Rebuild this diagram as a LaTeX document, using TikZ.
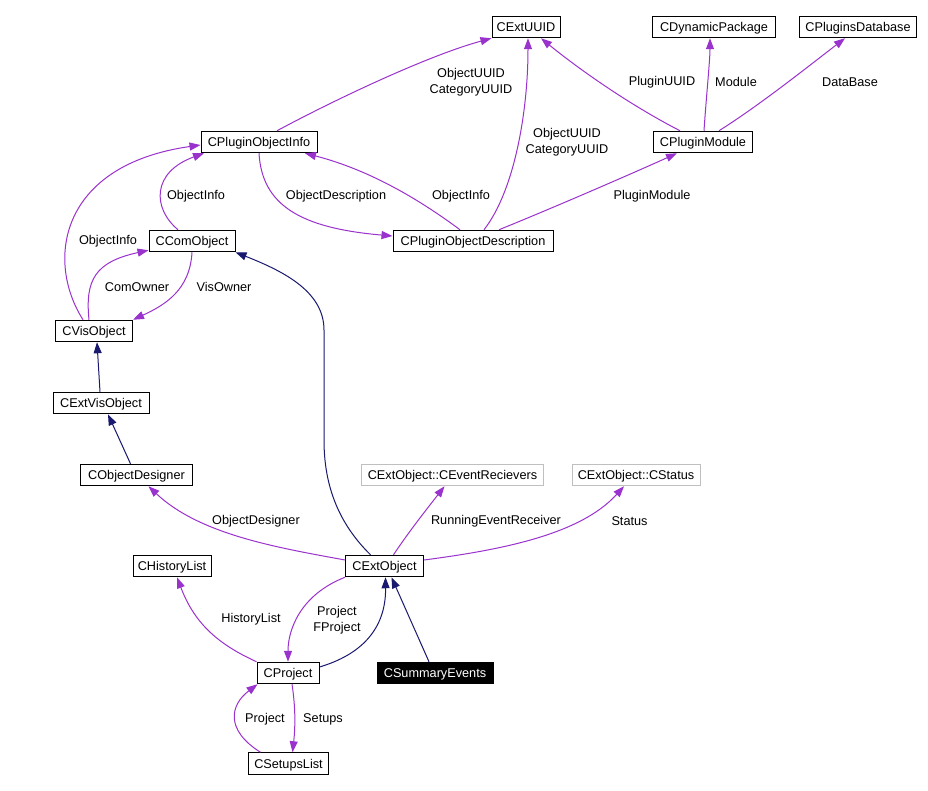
\documentclass[tikz,border=0pt]{standalone}
\usepackage{fontspec}
\setmainfont{Liberation Sans}
\usetikzlibrary{arrows.meta}
\definecolor{assocc}{HTML}{9A32CD}
\definecolor{inhc}{HTML}{191970}
\definecolor{greyb}{HTML}{BFBFBF}
\tikzset{
  cls/.style={draw=black, line width=1pt, fill=white, minimum height=21.5pt, inner xsep=1pt, inner ysep=0pt,
    font=\fontsize{12.7}{15}\selectfont, text height=10.5pt, text depth=1.2pt},
  extcls/.style={cls, draw=greyb},
  curcls/.style={cls, fill=black, text=white},
  assoc/.style={draw=assocc, line width=1pt, -{Triangle[length=11pt,width=8pt]}},
  inh/.style={draw=inhc, line width=1pt, -{Triangle[length=11pt,width=8pt]}},
  lbl/.style={font=\fontsize{12.7}{16.5}\selectfont, align=center, inner sep=0pt}
}
\begin{document}
\begin{tikzpicture}[x=1pt,y=-1pt]
\useasboundingbox[fill=white] (0,0) rectangle (928,791);
% nodes
\node[cls, minimum width=68pt] (uuid) at (526,27) {CExtUUID};
\node[cls, minimum width=123pt] (dyn) at (714,27) {CDynamicPackage};
\node[cls, minimum width=117pt] (pdb) at (858,27) {CPluginsDatabase};
\node[cls, minimum width=116pt] (pinfo) at (259,142) {CPluginObjectInfo};
\node[cls, minimum width=99pt] (pmod) at (703,142) {CPluginModule};
\node[cls, minimum width=160pt] (pdesc) at (473,241) {CPluginObjectDescription};
\node[cls, minimum width=86pt] (ccom) at (192,241) {CComObject};
\node[cls, minimum width=77pt] (cvis) at (94,331) {CVisObject};
\node[cls, minimum width=96pt] (cextvis) at (101,403) {CExtVisObject};
\node[cls, minimum width=112pt] (cobjdes) at (136.5,475) {CObjectDesigner};
\node[extcls, minimum width=182pt] (cevent) at (452.5,475) {CExtObject::CEventRecievers};
\node[extcls, minimum width=128pt] (cstatus) at (636,475) {CExtObject::CStatus};
\node[cls, minimum width=78pt] (cext) at (384.5,566) {CExtObject};
\node[cls, minimum width=78pt] (chist) at (172,566) {CHistoryList};
\node[cls, minimum width=62pt] (cproj) at (288,673) {CProject};
\node[curcls, minimum width=116pt] (csum) at (435,673) {CSummaryEvents};
\node[cls, minimum width=80pt] (csetups) at (288.5,763.5) {CSetupsList};
% edges
\draw[assoc] ([xshift=18pt]pinfo.north) .. controls (340,97) and (430,55) .. (uuid.south west);
\draw[assoc] ([xshift=11pt]pdesc.north) .. controls (515,190) and (528,110) .. ([xshift=2pt]uuid.south);
\draw[assoc] ([xshift=-23pt]pmod.north) .. controls (630,105) and (580,70) .. ([xshift=15pt]uuid.south);
\draw[assoc] ([xshift=1pt]pmod.north) .. controls (706,100) and (710,60) .. ([xshift=-4pt]dyn.south);
\draw[assoc] ([xshift=16pt]pmod.north) .. controls (760,105) and (810,65) .. ([xshift=-13pt]pdb.south);
\draw[assoc] ([xshift=26pt]pdesc.north) .. controls (560,205) and (640,170) .. ([xshift=-26pt]pmod.south);
\draw[assoc] ([xshift=-13pt]pdesc.north) .. controls (420,200) and (370,170) .. ([xshift=46pt]pinfo.south);
\draw[assoc] (pinfo.south) .. controls (262,205) and (300,228) .. ([yshift=5pt]pdesc.west);
\draw[assoc] ([xshift=-14pt]ccom.north) .. controls (152,208) and (152,172) .. ([xshift=-55pt]pinfo.south);
\draw[assoc] ([xshift=-11pt]cvis.north) .. controls (45,260) and (60,165) .. ([yshift=-3pt]pinfo.west);
\draw[assoc] ([xshift=-5pt]cvis.north) .. controls (85,280) and (95,262) .. ([yshift=2pt]ccom.south west);
\draw[assoc] (ccom.south) .. controls (190,290) and (165,305) .. (cvis.north east);
\draw[inh] ([xshift=-1pt]cextvis.north) -- ([xshift=3pt]cvis.south);
\draw[inh] ([xshift=-6pt]cobjdes.north) -- ([xshift=7pt]cextvis.south);
\draw[inh] ([xshift=-14pt]cext.north) .. controls (335,520) and (324,480) .. (324,440) -- (324,330) .. controls (324,290) and (280,270) .. (ccom.south east);
\draw[assoc] ([yshift=6pt]cext.west) .. controls (280,548) and (200,535) .. ([xshift=12pt]cobjdes.south);
\draw[assoc] ([xshift=9pt]cext.north) .. controls (410,530) and (430,505) .. ([xshift=-8pt]cevent.south);
\draw[assoc] ([yshift=6pt]cext.east) .. controls (500,550) and (580,535) .. ([xshift=-12pt]cstatus.south);
\draw[assoc] (cproj.north west) .. controls (220,645) and (195,625) .. ([xshift=5pt]chist.south);
\draw[assoc] (cext.south west) .. controls (300,595) and (288,630) .. (cproj.north);
\draw[inh] ([yshift=6pt]cproj.east) .. controls (360,655) and (386,630) .. ([xshift=1pt]cext.south);
\draw[inh] ([xshift=-6pt]csum.north) -- ([xshift=7pt]cext.south);
\draw[assoc] ([xshift=-28pt]csetups.north) .. controls (225,730) and (230,705) .. ([xshift=1pt]cproj.south west);
\draw[assoc] ([xshift=4pt]cproj.south) .. controls (296,710) and (295,730) .. ([xshift=4pt]csetups.north);
% labels
\node[lbl] (l1) at (471,82) {ObjectUUID\\CategoryUUID};
\node[lbl] (l2) at (567,142) {ObjectUUID\\CategoryUUID};
\node[lbl] (l3) at (662,82) {PluginUUID};
\node[lbl] (l4) at (736,82) {Module};
\node[lbl] (l5) at (850,82) {DataBase};
\node[lbl] (l6) at (652,196) {PluginModule};
\node[lbl] (l7) at (461,196) {ObjectInfo};
\node[lbl] (l8) at (336,196) {ObjectDescription};
\node[lbl] (l9) at (196,196) {ObjectInfo};
\node[lbl] (l10) at (108,241) {ObjectInfo};
\node[lbl] (l11) at (137,287) {ComOwner};
\node[lbl] (l12) at (224,287) {VisOwner};
\node[lbl] (l16) at (256,521) {ObjectDesigner};
\node[lbl] (l17) at (496,521) {RunningEventReceiver};
\node[lbl] (l18) at (629.5,521) {Status};
\node[lbl] (l19) at (251,619) {HistoryList};
\node[lbl] (l20) at (337,620) {Project\\FProject};
\node[lbl] (l23) at (265,719) {Project};
\node[lbl] (l24) at (323,719) {Setups};
\end{tikzpicture}
\end{document}
